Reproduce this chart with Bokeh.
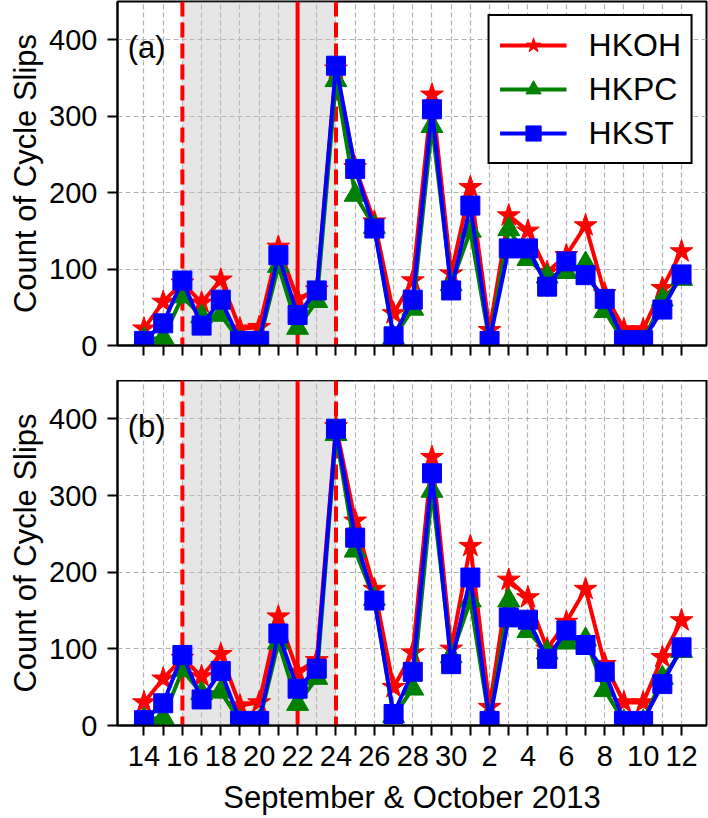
from bokeh.plotting import figure
from bokeh.models import Range1d, FixedTicker, BoxAnnotation, Span, Label
from bokeh.layouts import column
from bokeh.embed import file_html
from bokeh.resources import INLINE

# ---- data ----
days = [14, 15, 16, 17, 18, 19, 20, 21, 22, 23, 24, 25, 26, 27, 28, 29, 30,
        1, 2, 3, 4, 5, 6, 7, 8, 9, 10, 11, 12]
tick_labels = [str(d) if i % 2 == 0 else "" for i, d in enumerate(days)]
x = list(range(len(days)))

hkoh_a = [22, 57, 82, 56, 86, 22, 24, 129, 61, 73, 362, 233, 162, 42, 85, 328, 94,
          207, 20, 170, 150, 96, 118, 157, 68, 21, 21, 75, 123]
hkpc_a = [8, 10, 64, 38, 40, 5, 5, 104, 23, 58, 347, 197, 155, 10, 48, 287, 80,
          150, 5, 152, 113, 90, 96, 107, 45, 5, 5, 60, 87]
hkst_a = [6, 29, 85, 26, 60, 6, 6, 118, 40, 72, 366, 231, 153, 12, 60, 309, 72,
          183, 6, 127, 127, 77, 110, 92, 61, 7, 7, 47, 93]

hkoh_b = [30, 61, 88, 64, 93, 26, 30, 142, 70, 85, 390, 267, 178, 50, 95, 350, 100,
          234, 24, 190, 167, 100, 135, 178, 80, 30, 30, 89, 137]
hkpc_b = [8, 10, 72, 42, 44, 5, 5, 108, 28, 62, 380, 228, 165, 12, 48, 306, 90,
          163, 5, 163, 123, 95, 108, 112, 46, 5, 5, 62, 97]
hkst_b = [7, 29, 92, 34, 71, 6, 6, 120, 48, 74, 387, 245, 163, 15, 70, 329, 80,
          193, 6, 141, 138, 87, 124, 105, 70, 6, 6, 54, 102]

yticks = [0, 100, 200, 300, 400]
shade_start, shade_end, event_day = 2, 10, 8

FONT = "Liberation Sans"


def make_panel(oh, pc, st, tag, bottom_labels, height, top_border, bottom_border, legend):
    p = figure(width=708, height=height,
               x_range=Range1d(-1.38, 29.3), y_range=Range1d(0, 450),
               output_backend="svg", toolbar_location=None,
               min_border_left=117, min_border_right=2, min_border_top=top_border,
               min_border_bottom=bottom_border)
    p.outline_line_color = "black"
    p.outline_line_width = 2
    p.outline_line_alpha = 1

    p.xgrid.ticker = FixedTicker(ticks=x)
    p.ygrid.ticker = FixedTicker(ticks=yticks)
    for g in (p.xgrid, p.ygrid):
        g.grid_line_color = "#b0b0b0"
        g.grid_line_dash = "5 3"
        g.grid_line_width = 1.2

    box = BoxAnnotation(left=shade_start, right=shade_end, fill_color="#c4c4c4",
                        fill_alpha=0.42, line_alpha=0, level="underlay")
    p.add_layout(box)
    for loc, dash in ((shade_start, "15 6"), (shade_end, "15 6"), (event_day, "solid")):
        p.add_layout(Span(location=loc, dimension="height", line_color="red",
                          line_width=4, line_dash=dash, level="underlay"))

    kw = dict(legend_label="HKOH") if legend else {}
    p.line(x, oh, line_color="red", line_width=4, **kw)
    p.scatter(x, oh, marker="star", size=24, fill_color="red", line_color="red", **kw)
    kw = dict(legend_label="HKPC") if legend else {}
    p.line(x, pc, line_color="green", line_width=4, **kw)
    p.scatter(x, pc, marker="triangle", size=22, fill_color="green", line_color="green", **kw)
    kw = dict(legend_label="HKST") if legend else {}
    p.line(x, st, line_color="blue", line_width=4, **kw)
    p.scatter(x, st, marker="square", size=19, fill_color="blue", line_color="blue", **kw)

    p.add_layout(Label(x=-0.85, y=390, text=tag, text_font=FONT, text_font_size="31px",
                       text_color="black", text_baseline="middle", text_align="left"))

    ya = p.yaxis[0]
    ya.ticker = FixedTicker(ticks=yticks)
    ya.axis_label = "Count of Cycle Slips"
    ya.axis_label_text_font = FONT
    ya.axis_label_text_font_size = "31px"
    ya.axis_label_text_font_style = "normal"
    ya.axis_label_text_color = "black"
    ya.axis_label_standoff = 3
    ya.major_label_text_font = FONT
    ya.major_label_text_font_size = "29px"
    ya.major_label_text_color = "black"
    ya.major_label_standoff = 10
    ya.major_tick_out = 10
    ya.major_tick_in = 0
    ya.minor_tick_out = 0
    ya.minor_tick_in = 0
    ya.axis_line_width = 2
    ya.axis_line_color = "black"
    ya.major_tick_line_width = 2
    ya.major_tick_line_color = "black"

    xa = p.xaxis[0]
    xa.ticker = FixedTicker(ticks=x)
    xa.major_tick_out = 10
    xa.major_tick_in = 0
    xa.minor_tick_out = 0
    xa.minor_tick_in = 0
    xa.axis_line_width = 2
    xa.axis_line_color = "black"
    xa.major_tick_line_width = 2
    xa.major_tick_line_color = "black"
    xa.major_label_text_font = FONT
    xa.major_label_text_color = "black"
    if bottom_labels:
        xa.major_label_overrides = {i: lab for i, lab in zip(x, tick_labels)}
        xa.major_label_text_font_size = "29px"
        xa.major_label_standoff = 10
        xa.axis_label = "September & October 2013"
        xa.axis_label_text_font = FONT
        xa.axis_label_text_font_size = "31px"
        xa.axis_label_text_font_style = "normal"
        xa.axis_label_text_color = "black"
        xa.axis_label_standoff = 11
    else:
        xa.major_label_overrides = {i: "" for i in x}
        xa.major_label_text_font_size = "1px"
        xa.major_label_standoff = 0

    if legend:
        lg = p.legend[0]
        lg.location = "top_right"
        lg.margin = 13
        lg.label_text_font = FONT
        lg.label_text_font_size = "32px"
        lg.label_text_color = "black"
        lg.glyph_width = 67
        lg.glyph_height = 38
        lg.label_height = 38
        lg.label_standoff = 22
        lg.spacing = 6
        lg.padding = 10
        lg.border_line_color = "black"
        lg.border_line_width = 2
        lg.border_line_alpha = 1
        lg.background_fill_alpha = 1
    return p


pa = make_panel(hkoh_a, hkpc_a, hkst_a, "(a)", False, 380, 1, 35, True)
pb = make_panel(hkoh_b, hkpc_b, hkst_b, "(b)", True, 437, 0, 92, False)

layout = column(pa, pb, spacing=0)
open("out.html", "w").write(file_html(layout, INLINE))
